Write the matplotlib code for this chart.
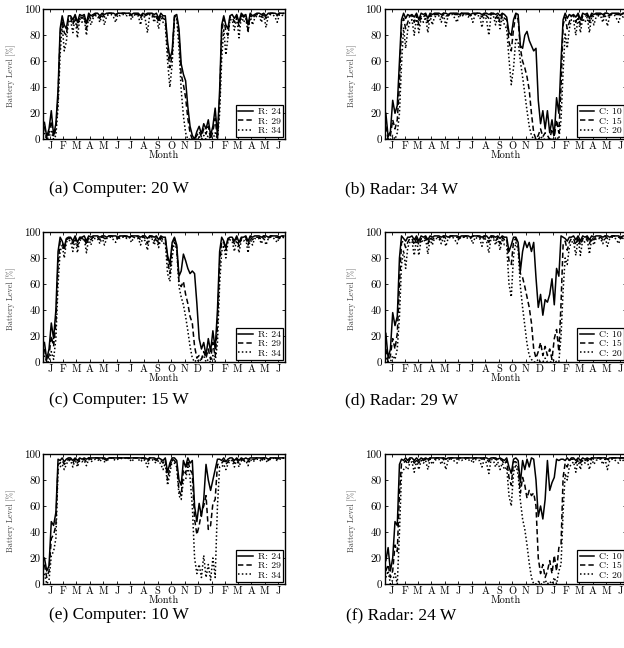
import numpy as np
import matplotlib
matplotlib.use('Agg')
import matplotlib.pyplot as plt

plt.rcParams['axes.formatter.use_mathtext'] = True

month_labels = ['J', 'F', 'M', 'A', 'M', 'J', 'J', 'A', 'S', 'O', 'N', 'D',
                'J', 'F', 'M', 'A', 'M', 'J']
month_days = [31, 28, 31, 30, 31, 30, 31, 31, 30, 31, 30, 31,
              31, 28, 31, 30, 31, 30]
samples_per_month = 6
y_ticks = [0, 20, 40, 60, 80, 100]

# ---- (a) Computer: 20 W ----
a_r24 = [13, 2, 8, 22, 3, 12, 38, 85, 95, 88, 85, 95, 95, 92, 96, 90, 96, 95,
         96, 89, 97, 95, 96, 97, 97, 95, 97, 96, 97, 97, 97, 97, 96, 97, 97, 97,
         97, 97, 97, 96, 97, 97, 97, 95, 97, 96, 97, 97, 97, 96, 97, 93, 97, 95,
         95, 75, 62, 68, 95, 96, 85, 58, 50, 45, 25, 10, 3, 0, 6, 10, 4, 12,
         8, 15, 3, 10, 24, 3, 38, 88, 95, 88, 85, 95, 96, 93, 96, 90, 97, 95,
         96, 88, 97, 95, 96, 97, 97, 96, 97, 95, 97, 97, 97, 97, 96, 97, 97, 97]
a_r29 = [10, 0, 5, 14, 2, 8, 32, 80, 92, 82, 80, 93, 94, 88, 95, 86, 95, 93,
         95, 85, 96, 92, 95, 96, 96, 93, 97, 94, 96, 97, 97, 96, 95, 97, 96, 97,
         97, 96, 97, 95, 97, 96, 96, 93, 97, 95, 96, 97, 96, 94, 96, 90, 96, 93,
         92, 70, 55, 65, 94, 95, 80, 50, 42, 32, 16, 5, 0, 0, 3, 6, 2, 8,
         4, 10, 0, 6, 16, 0, 30, 82, 93, 83, 80, 94, 94, 90, 95, 87, 96, 94,
         95, 84, 96, 93, 95, 96, 96, 94, 97, 93, 96, 97, 97, 96, 95, 97, 96, 97]
a_r34 = [5, 0, 2, 6, 0, 3, 25, 65, 88, 68, 75, 90, 92, 82, 94, 78, 93, 90,
         93, 80, 95, 88, 93, 95, 95, 90, 96, 88, 95, 96, 96, 94, 90, 96, 95, 96,
         96, 95, 96, 92, 96, 95, 95, 88, 96, 93, 82, 96, 95, 90, 95, 85, 95, 90,
         88, 60, 40, 58, 92, 93, 70, 38, 18, 5, 0, 0, 0, 0, 0, 2, 0, 3,
         0, 3, 0, 0, 5, 0, 20, 62, 85, 65, 78, 92, 92, 84, 94, 78, 95, 90,
         93, 82, 95, 88, 93, 95, 95, 90, 96, 86, 95, 96, 96, 94, 90, 96, 95, 96]

# ---- (b) Radar: 34 W ----
b_c10 = [20, 2, 6, 30, 20, 26, 60, 92, 97, 93, 96, 95, 96, 94, 97, 92, 97, 96,
         97, 93, 97, 96, 97, 97, 97, 96, 97, 97, 96, 97, 97, 97, 97, 96, 97, 97,
         97, 97, 96, 97, 97, 97, 97, 96, 97, 97, 96, 97, 97, 96, 97, 95, 97, 96,
         94, 82, 80, 92, 97, 96, 72, 70, 80, 83, 76, 72, 68, 70, 30, 12, 22, 8,
         22, 5, 15, 3, 32, 20, 60, 92, 97, 93, 96, 95, 96, 94, 97, 92, 97, 96,
         97, 93, 97, 96, 97, 97, 97, 96, 97, 97, 96, 97, 97, 97, 97, 96, 97, 97]
b_c15 = [10, 0, 3, 15, 8, 15, 42, 88, 93, 85, 90, 95, 95, 90, 96, 88, 95, 94,
         96, 90, 96, 94, 96, 96, 96, 94, 97, 95, 95, 97, 97, 96, 96, 95, 97, 96,
         97, 96, 95, 97, 96, 97, 96, 94, 97, 95, 93, 97, 96, 93, 96, 90, 96, 93,
         92, 75, 68, 85, 96, 92, 70, 60, 55, 48, 38, 20, 5, 0, 3, 8, 2, 5,
         3, 0, 8, 2, 15, 5, 40, 88, 94, 85, 90, 95, 95, 90, 96, 88, 95, 94,
         96, 90, 96, 94, 96, 96, 96, 94, 97, 95, 95, 97, 97, 96, 96, 95, 97, 96]
b_c20 = [0, 0, 0, 3, 0, 5, 20, 58, 86, 70, 84, 90, 92, 80, 94, 82, 93, 90,
         94, 82, 95, 88, 94, 95, 95, 90, 96, 87, 95, 96, 96, 93, 90, 96, 94, 96,
         96, 94, 96, 90, 96, 95, 95, 86, 96, 92, 80, 96, 95, 88, 95, 85, 94, 88,
         85, 62, 42, 55, 78, 75, 60, 48, 35, 22, 10, 3, 0, 0, 0, 2, 0, 0,
         0, 0, 0, 0, 2, 0, 15, 52, 82, 70, 85, 92, 92, 80, 94, 82, 93, 90,
         94, 82, 95, 88, 94, 95, 95, 90, 96, 87, 95, 96, 96, 93, 90, 96, 94, 96]

# ---- (c) Computer: 15 W ----
c_r24 = [15, 2, 10, 30, 18, 40, 85, 96, 93, 88, 95, 96, 96, 93, 97, 92, 96, 96,
         97, 93, 97, 96, 97, 97, 97, 96, 97, 97, 96, 97, 97, 97, 97, 96, 97, 97,
         97, 97, 96, 97, 97, 97, 97, 96, 97, 97, 95, 97, 97, 96, 97, 94, 97, 96,
         96, 82, 75, 92, 96, 90, 66, 70, 83, 78, 72, 68, 70, 68, 45, 18, 10, 15,
         5, 18, 8, 24, 10, 40, 85, 96, 93, 88, 95, 96, 96, 93, 97, 92, 96, 96,
         97, 93, 97, 96, 97, 97, 97, 96, 97, 97, 96, 97, 97, 97, 97, 96, 97, 97]
c_r29 = [10, 0, 5, 20, 12, 30, 75, 93, 92, 86, 94, 95, 95, 91, 96, 89, 95, 95,
         96, 90, 96, 94, 96, 96, 96, 94, 97, 95, 95, 97, 97, 96, 96, 95, 97, 96,
         97, 96, 95, 97, 96, 97, 96, 94, 97, 95, 91, 97, 96, 93, 96, 91, 96, 94,
         95, 78, 68, 88, 95, 88, 62, 58, 62, 52, 45, 35, 30, 12, 3, 5, 2, 8,
         3, 10, 2, 15, 4, 28, 75, 93, 92, 86, 94, 95, 95, 91, 96, 89, 95, 95,
         96, 90, 96, 94, 96, 96, 96, 94, 97, 95, 95, 97, 97, 96, 96, 95, 97, 96]
c_r34 = [5, 0, 0, 8, 2, 18, 60, 85, 90, 80, 92, 94, 93, 85, 95, 84, 94, 93,
         95, 84, 95, 90, 95, 95, 95, 91, 96, 90, 95, 96, 96, 94, 92, 96, 95, 96,
         96, 95, 96, 92, 96, 95, 95, 90, 96, 93, 86, 96, 95, 90, 95, 88, 95, 91,
         92, 68, 62, 80, 93, 86, 58, 50, 44, 35, 24, 12, 3, 0, 2, 0, 3, 5,
         0, 2, 0, 5, 0, 15, 60, 85, 90, 80, 92, 94, 93, 85, 95, 84, 94, 93,
         95, 84, 95, 90, 95, 95, 95, 91, 96, 90, 95, 96, 96, 94, 92, 96, 95, 96]

# ---- (d) Radar: 29 W ----
d_c10 = [22, 3, 10, 38, 28, 35, 80, 97, 95, 93, 96, 96, 97, 94, 97, 93, 97, 96,
         97, 94, 97, 96, 97, 97, 97, 96, 97, 97, 96, 97, 97, 97, 97, 96, 97, 97,
         97, 97, 96, 97, 97, 97, 97, 96, 97, 97, 95, 97, 97, 96, 97, 95, 97, 96,
         96, 85, 90, 96, 96, 92, 70, 85, 93, 88, 92, 85, 92, 65, 42, 52, 36, 48,
         46, 52, 64, 44, 72, 66, 97, 96, 95, 93, 96, 96, 97, 94, 97, 93, 97, 96,
         97, 94, 97, 96, 97, 97, 97, 96, 97, 97, 96, 97, 97, 97, 97, 96, 97, 97]
d_c15 = [10, 0, 5, 18, 10, 22, 60, 92, 93, 88, 92, 95, 95, 90, 96, 90, 95, 94,
         96, 91, 96, 94, 96, 96, 96, 94, 97, 95, 95, 97, 97, 96, 96, 95, 97, 96,
         97, 96, 95, 97, 96, 97, 96, 94, 97, 95, 92, 97, 96, 93, 96, 91, 96, 94,
         95, 78, 75, 93, 95, 90, 68, 65, 58, 50, 42, 30, 10, 3, 8, 15, 5, 12,
         5, 10, 2, 18, 25, 8, 45, 90, 93, 86, 92, 95, 95, 90, 96, 90, 95, 94,
         96, 91, 96, 94, 96, 96, 96, 94, 97, 95, 95, 97, 97, 96, 96, 95, 97, 96]
d_c20 = [3, 0, 0, 5, 2, 10, 35, 75, 86, 72, 88, 92, 93, 82, 95, 82, 94, 92,
         95, 83, 95, 90, 95, 95, 95, 91, 96, 89, 95, 96, 96, 94, 91, 96, 95, 96,
         96, 95, 96, 91, 96, 95, 95, 89, 96, 93, 84, 96, 95, 90, 95, 86, 95, 90,
         90, 60, 50, 82, 92, 86, 58, 42, 28, 14, 5, 2, 0, 0, 2, 0, 0, 3,
         0, 0, 0, 2, 0, 0, 20, 55, 80, 75, 88, 92, 93, 82, 95, 82, 94, 92,
         95, 83, 95, 90, 95, 95, 95, 91, 96, 89, 95, 96, 96, 94, 91, 96, 95, 96]

# ---- (e) Computer: 10 W ----
e_r24 = [20, 10, 14, 48, 45, 55, 96, 95, 97, 94, 96, 97, 97, 95, 97, 95, 97, 96,
         97, 96, 97, 97, 97, 97, 97, 97, 97, 97, 96, 97, 97, 97, 97, 97, 97, 97,
         97, 97, 97, 97, 97, 97, 97, 97, 97, 97, 96, 97, 97, 97, 96, 97, 96, 95,
         97, 86, 93, 97, 97, 95, 80, 76, 95, 90, 97, 93, 95, 60, 48, 62, 52, 65,
         92, 80, 72, 80, 88, 96, 96, 95, 97, 94, 96, 97, 97, 95, 97, 95, 97, 96,
         97, 96, 97, 97, 97, 97, 97, 97, 97, 97, 96, 97, 97, 97, 97, 97, 97, 97]
e_r29 = [15, 5, 10, 35, 38, 45, 92, 93, 95, 92, 94, 96, 96, 93, 96, 93, 96, 95,
         96, 94, 97, 96, 96, 97, 97, 96, 97, 96, 95, 97, 97, 97, 96, 97, 97, 97,
         97, 97, 97, 96, 97, 97, 97, 96, 97, 96, 94, 97, 97, 96, 95, 96, 95, 93,
         96, 80, 90, 96, 95, 92, 72, 68, 88, 85, 95, 88, 85, 50, 38, 45, 55, 60,
         68, 42, 45, 62, 65, 92, 92, 93, 95, 92, 94, 96, 96, 93, 96, 93, 96, 95,
         96, 94, 97, 96, 96, 97, 97, 96, 97, 96, 95, 97, 97, 97, 96, 97, 97, 97]
e_r34 = [8, 0, 3, 22, 25, 35, 88, 90, 92, 88, 92, 95, 95, 90, 96, 90, 95, 94,
         95, 91, 96, 94, 95, 96, 96, 94, 97, 94, 95, 96, 97, 96, 95, 96, 96, 97,
         97, 96, 97, 94, 96, 97, 96, 94, 96, 95, 90, 96, 96, 94, 93, 95, 92, 88,
         93, 76, 85, 95, 93, 90, 68, 65, 80, 80, 90, 82, 60, 20, 8, 15, 5, 22,
         5, 15, 3, 20, 5, 60, 90, 90, 92, 88, 92, 95, 95, 90, 96, 90, 95, 94,
         95, 91, 96, 94, 95, 96, 96, 94, 97, 94, 95, 96, 97, 96, 95, 96, 96, 97]

# ---- (f) Radar: 24 W ----
f_c10 = [18, 28, 10, 20, 48, 45, 92, 96, 95, 97, 95, 97, 97, 95, 97, 95, 97, 96,
         97, 96, 97, 97, 97, 97, 97, 97, 97, 96, 97, 97, 97, 97, 97, 97, 97, 97,
         97, 97, 97, 97, 97, 97, 97, 97, 97, 97, 96, 97, 97, 97, 96, 97, 96, 95,
         97, 90, 85, 96, 97, 95, 78, 95, 88, 96, 90, 97, 96, 80, 52, 60, 50, 65,
         95, 72, 78, 82, 96, 95, 96, 96, 95, 97, 95, 97, 97, 95, 97, 95, 97, 96,
         97, 96, 97, 97, 97, 97, 97, 97, 97, 96, 97, 97, 97, 97, 97, 97, 97, 97]
f_c15 = [10, 15, 5, 10, 30, 25, 70, 93, 93, 95, 92, 96, 96, 93, 96, 93, 96, 95,
         96, 94, 97, 96, 96, 97, 97, 96, 97, 96, 95, 97, 97, 97, 96, 97, 97, 97,
         97, 97, 97, 96, 97, 97, 97, 96, 97, 96, 94, 97, 97, 96, 95, 96, 95, 92,
         95, 82, 76, 94, 94, 90, 70, 82, 76, 66, 72, 68, 70, 60, 20, 8, 15, 5,
         10, 18, 8, 22, 10, 28, 30, 82, 93, 90, 95, 96, 96, 93, 96, 93, 96, 95,
         96, 94, 97, 96, 96, 97, 97, 96, 97, 96, 95, 97, 97, 97, 96, 97, 97, 97]
f_c20 = [5, 10, 0, 3, 8, 0, 40, 85, 88, 90, 88, 93, 94, 86, 95, 88, 95, 93,
         95, 88, 96, 92, 95, 96, 96, 92, 96, 88, 95, 96, 96, 94, 93, 96, 95, 96,
         96, 95, 96, 93, 96, 95, 95, 90, 96, 93, 85, 96, 95, 90, 94, 88, 93, 88,
         90, 68, 60, 86, 92, 84, 64, 50, 42, 30, 16, 5, 0, 0, 2, 0, 0, 3,
         0, 2, 0, 5, 0, 10, 15, 55, 85, 80, 90, 92, 94, 86, 95, 88, 95, 93,
         95, 88, 96, 92, 95, 96, 96, 92, 96, 88, 95, 96, 96, 94, 93, 96, 95, 96]

r_labels = ['R: 24', 'R: 29', 'R: 34']
c_labels = ['C: 10', 'C: 15', 'C: 20']
captions = ['(a) Computer: 20 W', '(b) Radar: 34 W', '(c) Computer: 15 W',
            '(d) Radar: 29 W', '(e) Computer: 10 W', '(f) Radar: 24 W']
panel_series = [[a_r24, a_r29, a_r34], [b_c10, b_c15, b_c20],
                [c_r24, c_r29, c_r34], [d_c10, d_c15, d_c20],
                [e_r24, e_r29, e_r34], [f_c10, f_c15, f_c20]]
panel_labels = [r_labels, c_labels, r_labels, c_labels, r_labels, c_labels]

# x positions from the calendar
md = np.array(month_days, dtype=float)
starts = np.concatenate([[0.0], np.cumsum(md)[:-1]])
x = (starts[:, None] + (np.arange(samples_per_month) + 0.5)[None, :]
     / samples_per_month * md[:, None]).ravel()
tick_pos = starts + md / 2.0
x_max = float(md.sum())

W, H = 624, 648
fig = plt.figure(figsize=(W / 100, H / 100), dpi=100)

col_left = [43.3, 384.7]
ax_w = 241.7
row_top = [9.3, 232.0, 454.0]
ax_h = 130.0
cap_x = [119, 401.5]
cap_y = [189, 400, 615]

tick_font = 'cmr10'
styles = [dict(linestyle='-', linewidth=1.1),
          dict(linestyle=(0, (3.5, 2.0)), linewidth=1.1),
          dict(linestyle=(0, (1.0, 1.5)), linewidth=1.1)]

for i in range(6):
    r, c = divmod(i, 2)
    left = col_left[c] / W
    bottom = 1 - (row_top[r] + ax_h) / H
    ax = fig.add_axes([left, bottom, ax_w / W, ax_h / H])
    for s, lab, st in zip(panel_series[i], panel_labels[i], styles):
        ax.plot(x, s, color='black', label=lab, **st)
    ax.set_xlim(0, x_max)
    ax.set_ylim(0, 100)
    ax.set_xticks(tick_pos)
    ax.set_xticklabels(month_labels, fontfamily=tick_font, fontsize=7.5)
    ax.set_yticks(y_ticks)
    ax.set_yticklabels([str(v) for v in y_ticks], fontfamily=tick_font, fontsize=8)
    ax.tick_params(direction='in', length=2.5, width=0.6, top=True, right=True)
    ax.tick_params(axis='x', pad=1.5)
    ax.tick_params(axis='y', pad=2)
    for sp in ax.spines.values():
        sp.set_linewidth(1.0)
    ax.set_xlabel('Month', fontfamily=tick_font, fontsize=7.5)
    ax.xaxis.set_label_coords(0.5, -0.125)
    ax.xaxis.label.set_va('center')
    ax.set_ylabel('Battery Level [%]', fontfamily=tick_font, fontsize=5.8,
                  color='#444444')
    ax.yaxis.set_label_coords(-0.132, 0.49)
    ax.yaxis.label.set_va('center')
    leg = ax.legend(loc='lower right', prop={'family': tick_font, 'size': 7},
                    handlelength=1.5, handletextpad=0.5, labelspacing=0.05,
                    borderpad=0.25, borderaxespad=0.2, fancybox=False,
                    framealpha=1.0, edgecolor='black')
    leg.get_frame().set_linewidth(0.9)
    fig.text(cap_x[c] / W, 1 - cap_y[r] / H, captions[i],
             family='Liberation Serif', fontsize=12.5, ha='center', va='center')

fig.savefig('out.png', dpi=100)
